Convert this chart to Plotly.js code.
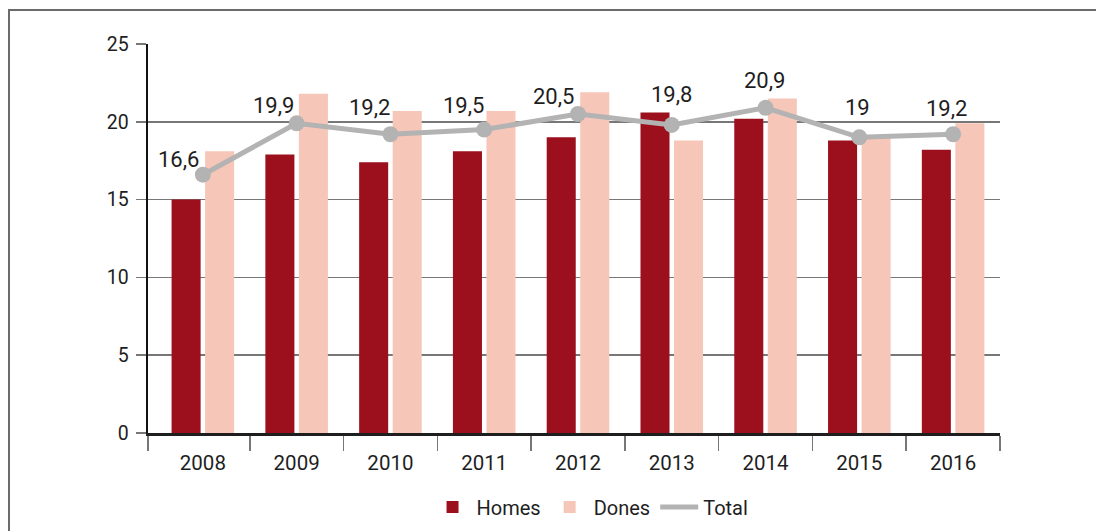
<!DOCTYPE html>
<html>
<head>
<meta charset="utf-8">
<script src="https://cdn.plot.ly/plotly-3.0.1.min.js"></script>
<style>
  html, body { margin: 0; padding: 0; background: #fff; }
  #frame { position: absolute; left: 8px; top: 9px; width: 1100px; height: 540px;
           border-top: 2px solid #6b6b6b; border-left: 2px solid #6b6b6b; pointer-events: none; }
  #chart { position: absolute; left: 0; top: 0; width: 1096px; height: 531px; }
</style>
</head>
<body>
<div id="frame"></div>
<div id="chart"></div>
<script>
const years = [2008, 2009, 2010, 2011, 2012, 2013, 2014, 2015, 2016];
const homes = [15.0, 17.9, 17.4, 18.1, 19.0, 20.6, 20.2, 18.8, 18.2];
const dones = [18.1, 21.8, 20.7, 20.7, 21.9, 18.8, 21.5, 19.0, 19.9];
const total = [16.6, 19.9, 19.2, 19.5, 20.5, 19.8, 20.9, 19.0, 19.2];
const yTicks = [0, 5, 10, 15, 20, 25];

// label offsets (pixels) relative to each Total point — style only
const labelDx = [-24, -23, -21, -21, -24, 0, -1, -2, -7];
const labelDy = [15, 18, 27, 24, 18, 30, 27, 30, 26];
const fontFam = 'Roboto, "DejaVu Sans", sans-serif';

const traces = [
  { type: 'bar', name: 'Homes', x: years, y: homes,
    marker: { color: '#9c101d' }, hoverinfo: 'skip' },
  { type: 'bar', name: 'Dones', x: years, y: dones,
    marker: { color: '#f6c6b8' }, hoverinfo: 'skip' },
  { type: 'scatter', mode: 'lines', name: 'Total', x: years, y: total,
    line: { color: '#b3b3b3', width: 5 }, hoverinfo: 'skip' },
  { type: 'scatter', mode: 'markers', name: 'Total', showlegend: false,
    x: years, y: total,
    marker: { color: '#b3b3b3', size: 16 },
    cliponaxis: false, hoverinfo: 'skip' }
];

const annotations = years.map((yr, i) => ({
  x: yr, y: total[i], xref: 'x', yref: 'y',
  text: String(total[i]).replace('.', ','),
  showarrow: false, xanchor: 'center', yanchor: 'middle',
  xshift: labelDx[i], yshift: labelDy[i],
  font: { size: 22, color: '#1e1e1e', family: fontFam }
}));

const boundaries = [years[0] - 0.585].concat(years.map(y => y + 0.5));

const layout = {
  width: 1096, height: 531,
  margin: { l: 148, r: 96, t: 44, b: 98 },
  paper_bgcolor: 'rgba(0,0,0,0)',
  plot_bgcolor: 'rgba(0,0,0,0)',
  font: { family: fontFam, color: '#1e1e1e', size: 19 },
  barmode: 'group', bargap: 0.285, bargroupgap: 0.134,
  showlegend: true,
  annotations: annotations,
  legend: { orientation: 'h', x: 0.52, xanchor: 'center',
            yref: 'container', y: 0.045, yanchor: 'middle',
            itemwidth: 38,
            font: { size: 20, color: '#1e1e1e', family: fontFam }, traceorder: 'normal' },
  xaxis: {
    type: 'linear', range: [years[0] - 0.585, years[years.length - 1] + 0.5],
    tickmode: 'array', tickvals: years, ticktext: years.map(String),
    ticks: '', showgrid: false, zeroline: false,
    showline: true, linecolor: '#1e1e1e', linewidth: 2.5,
    ticklabelstandoff: 10,
    tickfont: { size: 20.5, color: '#1e1e1e' },
    minor: { tickmode: 'array', tickvals: boundaries, ticks: 'outside', ticklen: 15,
             tickcolor: '#777', tickwidth: 1.5, showgrid: false },
    fixedrange: true
  },
  yaxis: {
    range: [0, 25], tickmode: 'array', tickvals: yTicks, ticktext: yTicks.map(String),
    ticks: 'outside', ticklen: 10, tickcolor: '#777', tickwidth: 1.5,
    showgrid: true, gridcolor: '#777', gridwidth: 1.5,
    zeroline: false, showline: true, linecolor: '#111', linewidth: 2.5,
    ticklabelstandoff: 3,
    tickfont: { size: 19.5, color: '#1e1e1e' },
    fixedrange: true
  }
};

Plotly.newPlot('chart', traces, layout, { displayModeBar: false, staticPlot: true });
</script>
</body>
</html>
